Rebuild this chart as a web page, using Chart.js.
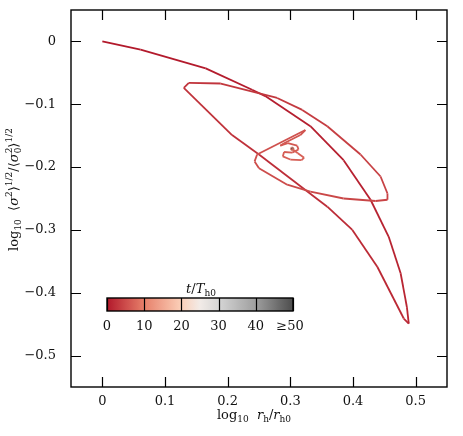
<!DOCTYPE html>
<html><head><meta charset="utf-8">
<script src="https://cdn.jsdelivr.net/npm/chart.js@4.4.0/dist/chart.umd.min.js"></script>
<style>html,body{margin:0;padding:0;background:#fff}#wrap{width:463px;height:436px}</style>
</head><body><div id="wrap"><canvas id="c" width="463" height="436"></canvas></div>
<script>
// trajectory: log10 rh/rh0 (x), log10 <sigma^2>^1/2/<sigma0^2>^1/2 (y), time t/Th0
const xValues = [0, 0.061, 0.165, 0.239, 0.260, 0.332, 0.385, 0.428, 0.457, 0.476, 0.486, 0.489,
  0.481, 0.439, 0.399, 0.359, 0.250, 0.207, 0.130, 0.138, 0.189, 0.279, 0.319, 0.359, 0.412, 0.444,
  0.455, 0.455, 0.436, 0.385, 0.332, 0.295, 0.250, 0.243, 0.247, 0.324, 0.316, 0.290, 0.284, 0.296,
  0.311, 0.313, 0.303, 0.290, 0.288, 0.300, 0.318, 0.322, 0.312, 0.304, 0.302];
const yValues = [0, -0.013, -0.043, -0.077, -0.087, -0.135, -0.189, -0.252, -0.311, -0.369, -0.423, -0.449,
  -0.441, -0.359, -0.300, -0.263, -0.180, -0.149, -0.074, -0.066, -0.067, -0.090, -0.109, -0.135, -0.180, -0.215,
  -0.242, -0.252, -0.254, -0.250, -0.239, -0.228, -0.202, -0.191, -0.180, -0.141, -0.149, -0.162, -0.166, -0.162,
  -0.166, -0.172, -0.177, -0.176, -0.183, -0.188, -0.189, -0.185, -0.178, -0.172, -0.171];
const tValues = [0, 0.1, 0.3, 0.45, 0.5, 0.65, 0.8, 0.95, 1.1, 1.25, 1.4, 1.5,
  1.55, 1.75, 1.9, 2.0, 2.3, 2.45, 2.7, 2.75, 2.9, 3.2, 3.4, 3.6, 3.8, 4.0,
  4.1, 4.2, 4.3, 4.5, 4.7, 4.9, 5.1, 5.2, 5.3, 5.7, 5.8, 6.0, 6.1, 6.2,
  6.3, 6.4, 6.5, 6.6, 6.7, 6.8, 6.9, 7.0, 7.1, 7.2, 9.0];
const endX = [0.303];
const endY = [-0.171];
const endT = [50];

const xTicks = [0, 0.1, 0.2, 0.3, 0.4, 0.5];
const yTicks = [0, -0.1, -0.2, -0.3, -0.4, -0.5];
const cbTicks = [0, 10, 20, 30, 40, 50];
const cbLabels = ['0', '10', '20', '30', '40', '≥50'];
const cmapStops = [[0, '#b2182b'], [10, '#e7806a'], [20, '#fbd0b9'], [25, '#f2ebe7'], [30, '#d6d6d6'], [40, '#9e9e9e'], [50, '#4d4d4d']];

function hex2rgb(h){return [parseInt(h.substr(1,2),16),parseInt(h.substr(3,2),16),parseInt(h.substr(5,2),16)];}
function colorAt(t){
  t = Math.max(cmapStops[0][0], Math.min(cmapStops[cmapStops.length-1][0], t));
  for (let i=0;i<cmapStops.length-1;i++){
    const [t0,c0]=cmapStops[i],[t1,c1]=cmapStops[i+1];
    if (t<=t1){const f=(t-t0)/(t1-t0);const a=hex2rgb(c0),b=hex2rgb(c1);
      return 'rgb('+a.map((v,k)=>Math.round(v+(b[k]-v)*f)).join(',')+')';}
  }
  return cmapStops[cmapStops.length-1][1];
}

const SERIF = '"DejaVu Serif", "Liberation Serif", serif';
function fmt(v){ if (Math.abs(v)<1e-9) return '0'; return (v<0?'\u2212':'')+Math.abs(v).toFixed(1); }

function drawRich(ctx, parts, cx, cy, size){
  const sm = Math.round(size*0.7);
  const fontOf = p => (p.it?'italic ':'')+(p.sub||p.sup?sm:size)+'px '+SERIF;
  let w=0, prevStart=0, prevW=0;
  const pos=[];
  for (const p of parts){
    ctx.font=fontOf(p);
    const pw=ctx.measureText(p.t).width;
    if (p.stack){ pos.push(prevStart); const nw=Math.max(prevW,pw); w=prevStart+nw; prevW=nw; }
    else { pos.push(w); prevStart=w; prevW=pw; w+=pw; }
  }
  const x0=cx-w/2;
  ctx.textBaseline='alphabetic'; ctx.textAlign='left'; ctx.fillStyle='#111';
  parts.forEach((p,i)=>{
    ctx.font=fontOf(p);
    let dy=0; if(p.sub) dy=size*0.3; if(p.sup) dy=-size*0.42;
    ctx.fillText(p.t, x0+pos[i], cy+size*0.35+dy);
  });
}

const framePlugin = {
  id:'frame',
  afterDraw(chart){
    const {ctx, chartArea:a, scales:{x, y}} = chart;
    ctx.save();
    ctx.strokeStyle='#000'; ctx.lineWidth=1.4;
    ctx.strokeRect(a.left, a.top, a.right-a.left, a.bottom-a.top);
    ctx.lineWidth=1.2;
    const L=10;
    ctx.beginPath();
    xTicks.forEach(v=>{const px=Math.round(x.getPixelForValue(v))+0.5;
      ctx.moveTo(px,a.bottom);ctx.lineTo(px,a.bottom-L);ctx.moveTo(px,a.top);ctx.lineTo(px,a.top+L);});
    yTicks.forEach(v=>{const py=Math.round(y.getPixelForValue(v))+0.5;
      ctx.moveTo(a.left,py);ctx.lineTo(a.left+L,py);ctx.moveTo(a.right,py);ctx.lineTo(a.right-L,py);});
    ctx.stroke();

    const xt=[{t:'log'},{t:'10',sub:1},{t:'  '},{t:'r',it:1},{t:'h',sub:1},{t:'/'},{t:'r',it:1},{t:'h0',sub:1}];
    drawRich(ctx, xt, (a.left+a.right)/2-5, 414, 13);
    const yt=[{t:'log'},{t:'10',sub:1},{t:'  '},{t:'\u27E8'},{t:'\u03C3',it:1},{t:'2',sup:1},{t:'\u27E9'},{t:'1/2',sup:1},
      {t:'/'},{t:'\u27E8'},{t:'\u03C3',it:1},{t:'2',sup:1},{t:'0',sub:1,stack:1},{t:'\u27E9'},{t:'1/2',sup:1}];
    ctx.save(); ctx.translate(13, (a.top+a.bottom)/2-9); ctx.rotate(-Math.PI/2);
    drawRich(ctx, yt, 0, 0, 13); ctx.restore();

    // colorbar
    const cbL=107, cbR=293, cbT=298, cbB=311;
    const g=ctx.createLinearGradient(cbL,0,cbR,0);
    for(let i=0;i<=50;i++) g.addColorStop(i/50, colorAt(i));
    ctx.fillStyle=g; ctx.fillRect(cbL,cbT,cbR-cbL,cbB-cbT);
    ctx.strokeStyle='#000'; ctx.lineWidth=1.4;
    ctx.strokeRect(cbL,cbT,cbR-cbL,cbB-cbT);
    ctx.lineWidth=1.2; ctx.beginPath();
    cbTicks.forEach(v=>{const px=Math.round(cbL+(cbR-cbL)*v/50)+0.5; ctx.moveTo(px,cbT);ctx.lineTo(px,cbB);});
    ctx.stroke();
    ctx.fillStyle='#111'; ctx.font='13px '+SERIF; ctx.textAlign='center'; ctx.textBaseline='middle';
    cbTicks.forEach((v,i)=>{let px=cbL+(cbR-cbL)*v/50; if(i===cbTicks.length-1) px-=3; ctx.fillText(cbLabels[i], px, 327);});
    drawRich(ctx, [{t:'t',it:1},{t:'/'},{t:'T',it:1},{t:'h0',sub:1}], 201, 288, 13);
    ctx.restore();
  }
};

const pts = xValues.map((v,i)=>({x:v, y:yValues[i]}));
new Chart(document.getElementById('c'), {
  type:'scatter',
  data:{datasets:[
    {data:pts, showLine:true, pointRadius:0, borderWidth:1.8, tension:0, fill:false,
     segment:{borderColor:c=>colorAt((tValues[c.p0DataIndex]+tValues[c.p1DataIndex])/2)}, borderColor:colorAt(0)},
    {data:endX.map((v,i)=>({x:v,y:endY[i]})), pointRadius:1.8, pointBackgroundColor:endT.map(colorAt),
     pointBorderColor:'rgba(230,140,120,0.9)', pointBorderWidth:1}
  ]},
  options:{
    responsive:false, animation:false, devicePixelRatio:1,
    layout:{padding:{left:0,right:16,top:10,bottom:0}},
    plugins:{legend:{display:false}, tooltip:{enabled:false}},
    scales:{
      x:{type:'linear', min:-0.05, max:0.55,
        afterBuildTicks:s=>{s.ticks=xTicks.map(v=>({value:v}));},
        afterFit:s=>{s.height=49; s.paddingLeft=0; s.paddingRight=0;},
        grid:{display:false, drawTicks:false}, border:{display:false},
        ticks:{padding:7, color:'#111', font:{family:SERIF,size:13}, maxRotation:0, callback:v=>fmt(v)}},
      y:{type:'linear', min:-0.55, max:0.05,
        afterBuildTicks:s=>{s.ticks=yTicks.map(v=>({value:v}));},
        afterFit:s=>{s.width=71; s.paddingTop=0; s.paddingBottom=0;},
        grid:{display:false, drawTicks:false}, border:{display:false},
        ticks:{padding:15, color:'#111', font:{family:SERIF,size:13}, callback:v=>fmt(v)}}
    }
  },
  plugins:[framePlugin]
});
</script></body></html>
